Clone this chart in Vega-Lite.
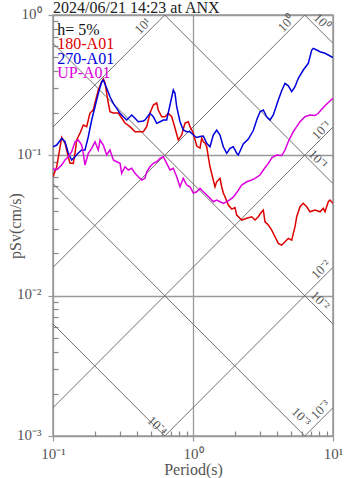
{
  "$schema": "https://vega.github.io/schema/vega-lite/v6.json",
  "width": 280,
  "height": 421,
  "autosize": {"type": "none"},
  "padding": {"left": 53, "top": 15, "right": 14, "bottom": 42},
  "background": "white",
  "title": {"text": "2024/06/21 14:23 at ANX", "anchor": "start", "frame": "group", "font": "Liberation Serif", "fontSize": 16, "fontWeight": "normal", "color": "#222", "baseline": "top", "offset": -10},
  "config": {"view": {"stroke": "#999", "strokeWidth": 1.5}, "font": "Liberation Serif"},
  "datasets": {
    "diag": [
      {"id": "a10", "T": 0.1, "Sv": 0.15915}, {"id": "a10", "T": 0.62832, "Sv": 1},
      {"id": "a1", "T": 0.1, "Sv": 0.015915}, {"id": "a1", "T": 6.2832, "Sv": 1},
      {"id": "a01", "T": 0.1, "Sv": 0.0015915}, {"id": "a01", "T": 10, "Sv": 0.15915},
      {"id": "a001", "T": 0.62832, "Sv": 0.001}, {"id": "a001", "T": 10, "Sv": 0.015915},
      {"id": "a0001", "T": 6.2832, "Sv": 0.001}, {"id": "a0001", "T": 10, "Sv": 0.0015915},
      {"id": "d1", "T": 6.2832, "Sv": 1}, {"id": "d1", "T": 10, "Sv": 0.62832},
      {"id": "d01", "T": 0.62832, "Sv": 1}, {"id": "d01", "T": 10, "Sv": 0.062832},
      {"id": "d001", "T": 0.1, "Sv": 0.62832}, {"id": "d001", "T": 10, "Sv": 0.0062832},
      {"id": "d0001", "T": 0.1, "Sv": 0.062832}, {"id": "d0001", "T": 6.2832, "Sv": 0.001},
      {"id": "d00001", "T": 0.1, "Sv": 0.0062832}, {"id": "d00001", "T": 0.62832, "Sv": 0.001}
    ],
    "dlabels": [
      {"k": "a", "lab": "10¹", "T": 0.4395, "Sv": 0.834},
      {"k": "a", "lab": "10⁰", "T": 4.65, "Sv": 0.87},
      {"k": "d", "lab": "10⁰", "T": 8.35, "Sv": 0.891},
      {"k": "a", "lab": "10⁻¹", "T": 8.3, "Sv": 0.151},
      {"k": "d", "lab": "10⁻¹", "T": 7.81, "Sv": 0.0936},
      {"k": "a", "lab": "10⁻²", "T": 8.21, "Sv": 0.01533},
      {"k": "d", "lab": "10⁻²", "T": 8.08, "Sv": 0.00921},
      {"k": "d", "lab": "10⁻³", "T": 5.91, "Sv": 0.001367},
      {"k": "a", "lab": "10⁻³", "T": 8.14, "Sv": 0.001534},
      {"k": "d", "lab": "10⁻⁴", "T": 0.553, "Sv": 0.001178}
    ],
    "legend": [
      {"s": "h= 5%", "T": 0.1073, "Sv": 0.72},
      {"s": "180-A01", "T": 0.1073, "Sv": 0.572},
      {"s": "270-A01", "T": 0.1073, "Sv": 0.4475},
      {"s": "UP-A01", "T": 0.1073, "Sv": 0.3555}
    ],
    "curves": [
      {"s":"180-A01","T":0.1,"Sv":0.0704},{"s":"180-A01","T":0.1063,"Sv":0.0829},{"s":"180-A01","T":0.1154,"Sv":0.134},{"s":"180-A01","T":0.1218,"Sv":0.1224},{"s":"180-A01","T":0.1286,"Sv":0.0977},{"s":"180-A01","T":0.1322,"Sv":0.0882},{"s":"180-A01","T":0.1396,"Sv":0.0877},{"s":"180-A01","T":0.1437,"Sv":0.1038},{"s":"180-A01","T":0.1477,"Sv":0.1285},{"s":"180-A01","T":0.156,"Sv":0.1442},{"s":"180-A01","T":0.1646,"Sv":0.1644},{"s":"180-A01","T":0.174,"Sv":0.16},{"s":"180-A01","T":0.1787,"Sv":0.1785},{"s":"180-A01","T":0.1837,"Sv":0.2002},{"s":"180-A01","T":0.194,"Sv":0.2103},{"s":"180-A01","T":0.1995,"Sv":0.236},{"s":"180-A01","T":0.2107,"Sv":0.292},{"s":"180-A01","T":0.2228,"Sv":0.3346},{"s":"180-A01","T":0.2288,"Sv":0.35},{"s":"180-A01","T":0.2352,"Sv":0.3277},{"s":"180-A01","T":0.2483,"Sv":0.236},{"s":"180-A01","T":0.2553,"Sv":0.2045},{"s":"180-A01","T":0.2697,"Sv":0.2002},{"s":"180-A01","T":0.2927,"Sv":0.2002},{"s":"180-A01","T":0.3095,"Sv":0.1844},{"s":"180-A01","T":0.3268,"Sv":0.1699},{"s":"180-A01","T":0.3548,"Sv":0.16},{"s":"180-A01","T":0.3853,"Sv":0.1473},{"s":"180-A01","T":0.4182,"Sv":0.1473},{"s":"180-A01","T":0.4416,"Sv":0.1473},{"s":"180-A01","T":0.467,"Sv":0.16},{"s":"180-A01","T":0.4931,"Sv":0.2002},{"s":"180-A01","T":0.5206,"Sv":0.2284},{"s":"180-A01","T":0.5505,"Sv":0.236},{"s":"180-A01","T":0.5651,"Sv":0.2103},{"s":"180-A01","T":0.5976,"Sv":0.1884},{"s":"180-A01","T":0.631,"Sv":0.1884},{"s":"180-A01","T":0.6663,"Sv":0.1993},{"s":"180-A01","T":0.7045,"Sv":0.1884},{"s":"180-A01","T":0.7436,"Sv":0.1565},{"s":"180-A01","T":0.7852,"Sv":0.1285},{"s":"180-A01","T":0.8303,"Sv":0.1395},{"s":"180-A01","T":0.8767,"Sv":0.1699},{"s":"180-A01","T":0.9257,"Sv":0.1736},{"s":"180-A01","T":0.9519,"Sv":0.16},{"s":"180-A01","T":1.005,"Sv":0.1442},{"s":"180-A01","T":1.063,"Sv":0.1165},{"s":"180-A01","T":1.122,"Sv":0.1127},{"s":"180-A01","T":1.154,"Sv":0.1329},{"s":"180-A01","T":1.185,"Sv":0.125},{"s":"180-A01","T":1.218,"Sv":0.1224},{"s":"180-A01","T":1.253,"Sv":0.1151},{"s":"180-A01","T":1.286,"Sv":0.0977},{"s":"180-A01","T":1.323,"Sv":0.0829},{"s":"180-A01","T":1.396,"Sv":0.0667},{"s":"180-A01","T":1.436,"Sv":0.0597},{"s":"180-A01","T":1.476,"Sv":0.0648},{"s":"180-A01","T":1.559,"Sv":0.0686},{"s":"180-A01","T":1.603,"Sv":0.0597},{"s":"180-A01","T":1.646,"Sv":0.0539},{"s":"180-A01","T":1.693,"Sv":0.0507},{"s":"180-A01","T":1.787,"Sv":0.0442},{"s":"180-A01","T":1.89,"Sv":0.0414},{"s":"180-A01","T":1.995,"Sv":0.0425},{"s":"180-A01","T":2.052,"Sv":0.0375},{"s":"180-A01","T":2.228,"Sv":0.0346},{"s":"180-A01","T":2.418,"Sv":0.0356},{"s":"180-A01","T":2.626,"Sv":0.0365},{"s":"180-A01","T":2.773,"Sv":0.0346},{"s":"180-A01","T":2.927,"Sv":0.0365},{"s":"180-A01","T":3.095,"Sv":0.0396},{"s":"180-A01","T":3.178,"Sv":0.0407},{"s":"180-A01","T":3.268,"Sv":0.0336},{"s":"180-A01","T":3.451,"Sv":0.0319},{"s":"180-A01","T":3.649,"Sv":0.0293},{"s":"180-A01","T":3.852,"Sv":0.0263},{"s":"180-A01","T":4.068,"Sv":0.0236},{"s":"180-A01","T":4.3,"Sv":0.0229},{"s":"180-A01","T":4.541,"Sv":0.0242},{"s":"180-A01","T":4.795,"Sv":0.0256},{"s":"180-A01","T":5.07,"Sv":0.0249},{"s":"180-A01","T":5.353,"Sv":0.031},{"s":"180-A01","T":5.505,"Sv":0.0365},{"s":"180-A01","T":5.811,"Sv":0.043},{"s":"180-A01","T":6.136,"Sv":0.0455},{"s":"180-A01","T":6.488,"Sv":0.043},{"s":"180-A01","T":6.85,"Sv":0.0396},{"s":"180-A01","T":7.435,"Sv":0.0407},{"s":"180-A01","T":8.074,"Sv":0.0396},{"s":"180-A01","T":8.524,"Sv":0.0419},{"s":"180-A01","T":8.767,"Sv":0.0396},{"s":"180-A01","T":9.257,"Sv":0.0467},{"s":"180-A01","T":9.52,"Sv":0.048},{"s":"180-A01","T":10,"Sv":0.0455},
      {"s":"270-A01","T":0.1,"Sv":0.1151},{"s":"270-A01","T":0.1063,"Sv":0.1184},{"s":"270-A01","T":0.1154,"Sv":0.1322},{"s":"270-A01","T":0.1218,"Sv":0.125},{"s":"270-A01","T":0.1286,"Sv":0.1038},{"s":"270-A01","T":0.136,"Sv":0.0926},{"s":"270-A01","T":0.1437,"Sv":0.0977},{"s":"270-A01","T":0.1516,"Sv":0.1038},{"s":"270-A01","T":0.1603,"Sv":0.1091},{"s":"270-A01","T":0.1693,"Sv":0.1091},{"s":"270-A01","T":0.1787,"Sv":0.1357},{"s":"270-A01","T":0.189,"Sv":0.1785},{"s":"270-A01","T":0.1995,"Sv":0.222},{"s":"270-A01","T":0.2107,"Sv":0.2766},{"s":"270-A01","T":0.2228,"Sv":0.3346},{"s":"270-A01","T":0.2288,"Sv":0.344},{"s":"270-A01","T":0.2418,"Sv":0.3003},{"s":"270-A01","T":0.2553,"Sv":0.2616},{"s":"270-A01","T":0.2697,"Sv":0.2348},{"s":"270-A01","T":0.2851,"Sv":0.2163},{"s":"270-A01","T":0.3011,"Sv":0.1993},{"s":"270-A01","T":0.3178,"Sv":0.1884},{"s":"270-A01","T":0.3361,"Sv":0.1785},{"s":"270-A01","T":0.3649,"Sv":0.1938},{"s":"270-A01","T":0.3853,"Sv":0.1836},{"s":"270-A01","T":0.4067,"Sv":0.1736},{"s":"270-A01","T":0.4416,"Sv":0.1756},{"s":"270-A01","T":0.4542,"Sv":0.1785},{"s":"270-A01","T":0.4931,"Sv":0.1993},{"s":"270-A01","T":0.5206,"Sv":0.1884},{"s":"270-A01","T":0.5505,"Sv":0.169},{"s":"270-A01","T":0.581,"Sv":0.1736},{"s":"270-A01","T":0.6136,"Sv":0.1785},{"s":"270-A01","T":0.6488,"Sv":0.1785},{"s":"270-A01","T":0.685,"Sv":0.2284},{"s":"270-A01","T":0.7233,"Sv":0.292},{"s":"270-A01","T":0.7436,"Sv":0.2766},{"s":"270-A01","T":0.7648,"Sv":0.222},{"s":"270-A01","T":0.8075,"Sv":0.1736},{"s":"270-A01","T":0.8525,"Sv":0.1515},{"s":"270-A01","T":0.9016,"Sv":0.1473},{"s":"270-A01","T":0.9519,"Sv":0.1473},{"s":"270-A01","T":1.005,"Sv":0.1395},{"s":"270-A01","T":1.063,"Sv":0.134},{"s":"270-A01","T":1.122,"Sv":0.1362},{"s":"270-A01","T":1.185,"Sv":0.1373},{"s":"270-A01","T":1.253,"Sv":0.1218},{"s":"270-A01","T":1.323,"Sv":0.1151},{"s":"270-A01","T":1.396,"Sv":0.1395},{"s":"270-A01","T":1.476,"Sv":0.1515},{"s":"270-A01","T":1.559,"Sv":0.1395},{"s":"270-A01","T":1.646,"Sv":0.1151},{"s":"270-A01","T":1.741,"Sv":0.1033},{"s":"270-A01","T":1.838,"Sv":0.1122},{"s":"270-A01","T":1.941,"Sv":0.1151},{"s":"270-A01","T":2.052,"Sv":0.1033},{"s":"270-A01","T":2.106,"Sv":0.1005},{"s":"270-A01","T":2.287,"Sv":0.1204},{"s":"270-A01","T":2.483,"Sv":0.1307},{"s":"270-A01","T":2.696,"Sv":0.1502},{"s":"270-A01","T":2.851,"Sv":0.1785},{"s":"270-A01","T":3.01,"Sv":0.2045},{"s":"270-A01","T":3.178,"Sv":0.2103},{"s":"270-A01","T":3.36,"Sv":0.1884},{"s":"270-A01","T":3.548,"Sv":0.1785},{"s":"270-A01","T":3.746,"Sv":0.1938},{"s":"270-A01","T":4.068,"Sv":0.2478},{"s":"270-A01","T":4.3,"Sv":0.2884},{"s":"270-A01","T":4.541,"Sv":0.326},{"s":"270-A01","T":4.795,"Sv":0.313},{"s":"270-A01","T":5.07,"Sv":0.2841},{"s":"270-A01","T":5.353,"Sv":0.3083},{"s":"270-A01","T":5.65,"Sv":0.3539},{"s":"270-A01","T":6.136,"Sv":0.4055},{"s":"270-A01","T":6.662,"Sv":0.4526},{"s":"270-A01","T":7.046,"Sv":0.5631},{"s":"270-A01","T":7.233,"Sv":0.579},{"s":"270-A01","T":7.648,"Sv":0.5631},{"s":"270-A01","T":8.074,"Sv":0.5477},{"s":"270-A01","T":8.767,"Sv":0.5333},{"s":"270-A01","T":9.257,"Sv":0.5186},{"s":"270-A01","T":10,"Sv":0.4979},
      {"s":"UP-A01","T":0.1,"Sv":0.0808},{"s":"UP-A01","T":0.1033,"Sv":0.0786},{"s":"UP-A01","T":0.1091,"Sv":0.0808},{"s":"UP-A01","T":0.1154,"Sv":0.0853},{"s":"UP-A01","T":0.1218,"Sv":0.0926},{"s":"UP-A01","T":0.1286,"Sv":0.0977},{"s":"UP-A01","T":0.136,"Sv":0.1061},{"s":"UP-A01","T":0.1437,"Sv":0.125},{"s":"UP-A01","T":0.1516,"Sv":0.1285},{"s":"UP-A01","T":0.1603,"Sv":0.1184},{"s":"UP-A01","T":0.1646,"Sv":0.1033},{"s":"UP-A01","T":0.1693,"Sv":0.0853},{"s":"UP-A01","T":0.1787,"Sv":0.1033},{"s":"UP-A01","T":0.189,"Sv":0.1122},{"s":"UP-A01","T":0.1995,"Sv":0.125},{"s":"UP-A01","T":0.2107,"Sv":0.1091},{"s":"UP-A01","T":0.2167,"Sv":0.1285},{"s":"UP-A01","T":0.2288,"Sv":0.1184},{"s":"UP-A01","T":0.2418,"Sv":0.1005},{"s":"UP-A01","T":0.2553,"Sv":0.1091},{"s":"UP-A01","T":0.2697,"Sv":0.0926},{"s":"UP-A01","T":0.2851,"Sv":0.09},{"s":"UP-A01","T":0.3011,"Sv":0.0877},{"s":"UP-A01","T":0.3095,"Sv":0.0744},{"s":"UP-A01","T":0.3268,"Sv":0.0829},{"s":"UP-A01","T":0.3451,"Sv":0.0786},{"s":"UP-A01","T":0.3649,"Sv":0.0808},{"s":"UP-A01","T":0.3853,"Sv":0.0744},{"s":"UP-A01","T":0.4067,"Sv":0.0704},{"s":"UP-A01","T":0.4301,"Sv":0.0667},{"s":"UP-A01","T":0.4542,"Sv":0.0686},{"s":"UP-A01","T":0.467,"Sv":0.0764},{"s":"UP-A01","T":0.4931,"Sv":0.0829},{"s":"UP-A01","T":0.5206,"Sv":0.0877},{"s":"UP-A01","T":0.5505,"Sv":0.09},{"s":"UP-A01","T":0.581,"Sv":0.0952},{"s":"UP-A01","T":0.6136,"Sv":0.0977},{"s":"UP-A01","T":0.6488,"Sv":0.0877},{"s":"UP-A01","T":0.685,"Sv":0.0786},{"s":"UP-A01","T":0.7233,"Sv":0.0808},{"s":"UP-A01","T":0.7648,"Sv":0.0704},{"s":"UP-A01","T":0.8075,"Sv":0.0597},{"s":"UP-A01","T":0.8525,"Sv":0.0686},{"s":"UP-A01","T":0.9016,"Sv":0.0614},{"s":"UP-A01","T":0.9519,"Sv":0.0597},{"s":"UP-A01","T":1.005,"Sv":0.0539},{"s":"UP-A01","T":1.063,"Sv":0.055},{"s":"UP-A01","T":1.122,"Sv":0.0582},{"s":"UP-A01","T":1.185,"Sv":0.055},{"s":"UP-A01","T":1.253,"Sv":0.0521},{"s":"UP-A01","T":1.323,"Sv":0.0494},{"s":"UP-A01","T":1.396,"Sv":0.0467},{"s":"UP-A01","T":1.476,"Sv":0.048},{"s":"UP-A01","T":1.559,"Sv":0.0467},{"s":"UP-A01","T":1.646,"Sv":0.0455},{"s":"UP-A01","T":1.741,"Sv":0.0467},{"s":"UP-A01","T":1.838,"Sv":0.0484},{"s":"UP-A01","T":1.941,"Sv":0.0504},{"s":"UP-A01","T":2.052,"Sv":0.0543},{"s":"UP-A01","T":2.228,"Sv":0.0614},{"s":"UP-A01","T":2.418,"Sv":0.0648},{"s":"UP-A01","T":2.626,"Sv":0.0667},{"s":"UP-A01","T":2.773,"Sv":0.0686},{"s":"UP-A01","T":3.01,"Sv":0.0724},{"s":"UP-A01","T":3.178,"Sv":0.0786},{"s":"UP-A01","T":3.451,"Sv":0.0877},{"s":"UP-A01","T":3.667,"Sv":0.0965},{"s":"UP-A01","T":3.962,"Sv":0.1005},{"s":"UP-A01","T":4.3,"Sv":0.0997},{"s":"UP-A01","T":4.541,"Sv":0.1091},{"s":"UP-A01","T":4.795,"Sv":0.125},{"s":"UP-A01","T":5.204,"Sv":0.1473},{"s":"UP-A01","T":5.505,"Sv":0.16},{"s":"UP-A01","T":5.811,"Sv":0.1736},{"s":"UP-A01","T":6.31,"Sv":0.1884},{"s":"UP-A01","T":6.85,"Sv":0.1938},{"s":"UP-A01","T":7.435,"Sv":0.1921},{"s":"UP-A01","T":7.853,"Sv":0.1993},{"s":"UP-A01","T":8.524,"Sv":0.2191},{"s":"UP-A01","T":9.257,"Sv":0.2378},{"s":"UP-A01","T":10,"Sv":0.2548}
    ]
  },
  "layer": [
    {
      "data": {"name": "diag"},
      "mark": {"type": "line", "color": "#707070", "strokeWidth": 1, "clip": true},
      "encoding": {
        "x": {"field": "T", "type": "quantitative", "scale": {"type": "log", "domain": [0.1, 10], "nice": false},
          "axis": {"orient": "bottom", "values": [0.1, 1, 10], "labelExpr": "datum.value < 0.5 ? '10⁻¹' : datum.value < 5 ? '10⁰' : '10¹'",
            "grid": true, "gridColor": "#999", "gridWidth": 1.3, "gridOpacity": 1, "domain": false, "ticks": true, "tickSize": 5, "tickColor": "#999", "tickWidth": 1.2,
            "labelFont": "Liberation Serif", "labelFontSize": 15, "labelColor": "#555", "labelPadding": 5, "labelFlush": false, "labelOverlap": false,
            "title": "Period(s)", "titleFont": "Liberation Serif", "titleFontSize": 16, "titleFontWeight": "normal", "titleColor": "#555", "titlePadding": 0}},
        "y": {"field": "Sv", "type": "quantitative", "scale": {"type": "log", "domain": [0.001, 1], "nice": false},
          "axis": {"orient": "left", "values": [0.001, 0.01, 0.1, 1], "labelExpr": "datum.value > 0.5 ? '10⁰' : datum.value > 0.05 ? '10⁻¹' : datum.value > 0.005 ? '10⁻²' : '10⁻³'",
            "grid": true, "gridColor": "#999", "gridWidth": 1.3, "gridOpacity": 1, "domain": false, "ticks": true, "tickSize": 5, "tickColor": "#999", "tickWidth": 1.2,
            "labelFont": "Liberation Serif", "labelFontSize": 15, "labelColor": "#555", "labelPadding": 7, "labelFlush": false, "labelOverlap": false, "labelOffset": -2,
            "title": "pSv(cm/s)", "titleFont": "Liberation Serif", "titleFontSize": 16, "titleFontWeight": "normal", "titleColor": "#555", "titlePadding": -7}},
        "detail": {"field": "id", "type": "nominal"}
      }
    },
    {
      "data": {"name": "curves"},
      "mark": {"type": "line", "strokeWidth": 1.5, "clip": true},
      "encoding": {
        "x": {"field": "T", "type": "quantitative",
          "axis": {"orient": "bottom", "values": [0.2,0.3,0.4,0.5,0.6,0.7,0.8,0.9,2,3,4,5,6,7,8,9], "labels": false, "grid": false, "domain": false, "tickSize": -5, "tickColor": "#888", "tickWidth": 1.2, "title": null}},
        "y": {"field": "Sv", "type": "quantitative",
          "axis": {"orient": "left", "values": [0.002,0.003,0.004,0.005,0.006,0.007,0.008,0.009,0.02,0.03,0.04,0.05,0.06,0.07,0.08,0.09,0.2,0.3,0.4,0.5,0.6,0.7,0.8,0.9], "labels": false, "grid": false, "domain": false, "tickSize": -5, "tickColor": "#888", "tickWidth": 1.2, "title": null}},
        "color": {"field": "s", "type": "nominal", "scale": {"domain": ["180-A01", "270-A01", "UP-A01", "h= 5%"], "range": ["#dd0000", "#0000dd", "#dd00dd", "#111111"]}, "legend": null}
      }
    },
    {
      "data": {"name": "dlabels"},
      "transform": [{"filter": "datum.k == 'a'"}],
      "mark": {"type": "text", "angle": -45, "align": "center", "baseline": "middle", "font": "Liberation Serif", "fontSize": 13, "color": "#555"},
      "encoding": {
        "x": {"field": "T", "type": "quantitative", "axis": null},
        "y": {"field": "Sv", "type": "quantitative", "axis": null},
        "text": {"field": "lab"}
      }
    },
    {
      "data": {"name": "dlabels"},
      "transform": [{"filter": "datum.k == 'd'"}],
      "mark": {"type": "text", "angle": 45, "align": "center", "baseline": "middle", "font": "Liberation Serif", "fontSize": 13, "color": "#555"},
      "encoding": {
        "x": {"field": "T", "type": "quantitative", "axis": null},
        "y": {"field": "Sv", "type": "quantitative", "axis": null},
        "text": {"field": "lab"}
      }
    },
    {
      "data": {"name": "legend"},
      "mark": {"type": "text", "align": "left", "baseline": "alphabetic", "font": "Liberation Serif", "fontSize": 16},
      "encoding": {
        "x": {"field": "T", "type": "quantitative", "axis": null},
        "y": {"field": "Sv", "type": "quantitative", "axis": null},
        "text": {"field": "s"},
        "color": {"field": "s", "type": "nominal", "legend": null}
      }
    }
  ],
  "resolve": {"axis": {"x": "independent", "y": "independent"}}
}
